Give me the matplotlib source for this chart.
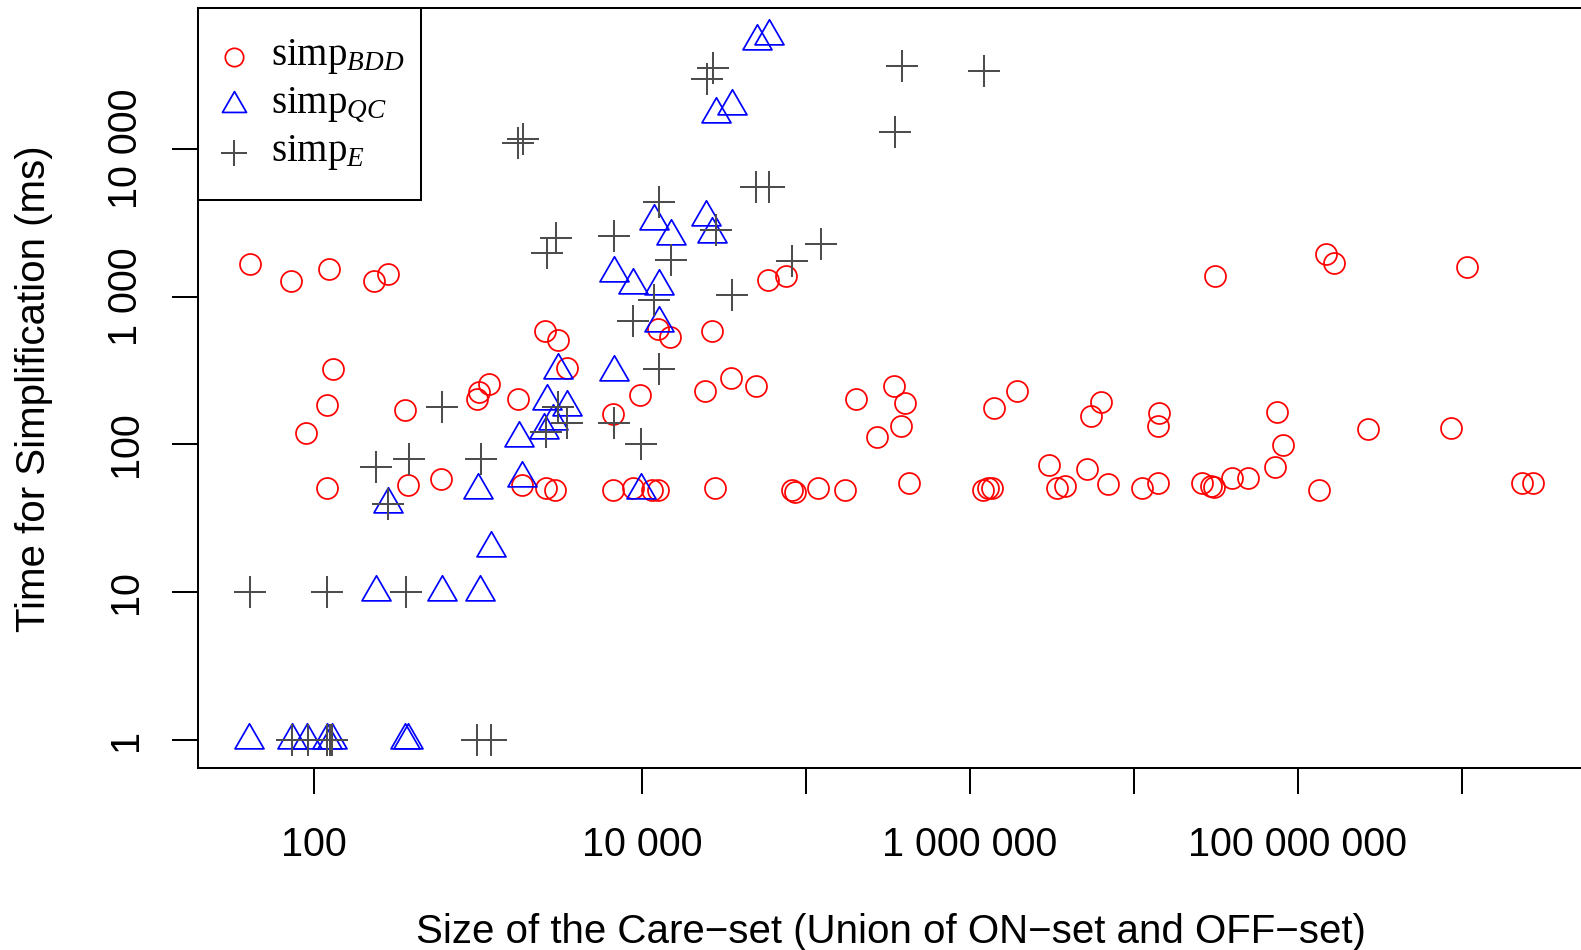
import matplotlib
matplotlib.use("Agg")
import matplotlib.pyplot as plt
from matplotlib.path import Path
from matplotlib.patches import Rectangle
from matplotlib.lines import Line2D
import numpy as np

# ---------------- data ----------------
bdd_x = [40.5, 72.1, 123.5, 232, 283, 129.5, 119, 89, 119, 358,
         375, 590, 979, 1016, 1164, 1757, 1843, 2556, 3082, 3458,
         2610, 2942, 6673, 6673, 8838, 9710, 11446, 12555, 12555, 14800,
         26700, 24030, 28040, 35010, 49330, 58880, 75510, 81800, 85670, 118900,
         173000, 201800, 271200, 344400, 381500, 403500, 426800, 1.207e6, 1.281e6, 1.358e6,
         1.409e6, 1.951e6, 3.051e6, 3.385e6, 3.793e6, 5.212e6, 5.49e6, 6.29e6, 6.98e6, 1.127e7,
         1.401e7, 1.401e7, 1.431e7, 2.603e7, 2.966e7, 3.094e7, 3.124e7, 3.951e7, 4.989e7, 7.26e7,
         7.49e7, 8.1e7, 1.341e8, 1.488e8, 1.67e8, 2.681e8, 8.65e8, 1.076e9, 2.349e9, 2.72e9]
bdd_y = [1654, 1275, 1530, 1275, 1422, 322, 185, 119, 50.5, 171,
         53.1, 58.3, 203, 227, 256, 203, 53.1, 588, 509, 327,
         50.5, 49.1, 160.6, 49.1, 50.5, 216, 49.1, 49.1, 601, 535,
         588, 228, 50.7, 280, 248, 1295, 1378, 49.1, 47.6, 50.9,
         49.1, 203, 112.7, 249.6, 133.2, 191.5, 54.6, 49.1, 50.7, 50.7,
         175.5, 228, 72.5, 50.5, 52.3, 67.8, 155.7, 192.7, 53.7, 50.5,
         55.1, 133.2, 162.4, 55.1, 52.3, 51.3, 1378, 59.0, 59.0, 70.0,
         164.9, 99.1, 49.1, 1933, 1696, 126.5, 129.7, 1594, 55.1, 55.1]

qc_x = [40.1, 72.8, 89.9, 119, 127.7, 360, 375, 238, 604, 1026,
        1197, 283, 1001, 1863, 1779, 2520, 2860, 2618, 3467, 3082,
        6710, 9807, 12730, 6738, 8740, 12730, 11820, 15070, 24540, 26810,
        28240, 35210, 50030, 59720]
qc_y = [1, 1, 1, 1, 1, 1, 1, 10, 10, 10,
        20, 39.5, 49.4, 59.4, 110, 125.2, 144, 198, 179, 319,
        310, 49.5, 666, 1438, 1202, 1172, 3257, 2555, 3472, 2669,
        17150, 19360, 53380, 58050]

e_x = [40.5, 120, 361, 72.8, 91.9, 120, 124.2, 128.8, 987.5, 1192,
       238, 378, 604, 283, 1047, 2610, 3082, 3467, 6738, 9807,
       12730, 8762, 11850, 35210, 15010, 28240, 6738, 2640, 2971, 12730,
       49750, 59720, 82490, 122900, 1757, 1885, 24780, 26960, 347800, 386900,
       1.219e6]
e_y = [10, 10, 10, 1, 1, 1, 1, 1, 1, 1,
       70, 79.6, 180, 39.5, 79.3, 120.4, 180, 138.9, 139.5, 100,
       326, 681, 944, 1025, 1761, 2810, 2559, 1972, 2492, 4379,
       5540, 5540, 1750, 2280, 10900, 11600, 29670, 35380, 12990, 36490,
       33610]

x_ticks = [1e2, 1e4, 1e5, 1e6, 1e7, 1e8, 1e9]
x_ticklabels = ["100", "10 000", "", "1 000 000", "", "100 000 000", ""]
y_ticks = [1, 10, 100, 1000, 10000]
y_ticklabels = ["1", "10", "100", "1 000", "10 000"]

series_labels = [r"$\mathrm{simp}_{BDD}$", r"$\mathrm{simp}_{QC}$", r"$\mathrm{simp}_{E}$"]
xlabel = "Size of the Care\u2212set (Union of ON\u2212set and OFF\u2212set)"
ylabel = "Time for Simplification (ms)"

# ---------------- style ----------------
plt.rcParams['font.family'] = ['Liberation Sans', 'DejaVu Sans']
plt.rcParams['mathtext.fontset'] = 'custom'
plt.rcParams['mathtext.rm'] = 'Liberation Serif'
plt.rcParams['mathtext.it'] = 'Liberation Serif:italic'

RED = '#FF0000'
BLUE = '#0000FF'
GRAY = '#4D4D4D'

W, H = 1581, 950
fig = plt.figure(figsize=(W / 100, H / 100), dpi=100)

def fx(px):
    return px / W

def fy(py):
    return 1 - py / H

left_px, right_px, top_px, bot_px = 198.3, 1600.0, 8.3, 768.3
ax = fig.add_axes([fx(left_px), fy(bot_px), (right_px - left_px) / W, (bot_px - top_px) / H])
ax.set_xscale('log')
ax.set_yscale('log')

x100, xdec = 314.3, 163.9
y1, ydec = 740.0, 147.8
ax.set_xlim(10 ** (2 + (left_px - x100) / xdec), 10 ** (2 + (right_px - x100) / xdec))
ax.set_ylim(10 ** ((y1 - bot_px) / ydec), 10 ** ((y1 - top_px) / ydec))

# equilateral triangle marker (R pch=2)
tri = Path([(0, 1), (-0.866, -0.5), (0.866, -0.5), (0, 1)],
           [Path.MOVETO, Path.LINETO, Path.LINETO, Path.CLOSEPOLY])

ax.plot(bdd_x, bdd_y, linestyle='none', marker='o', markersize=15.1,
        markerfacecolor='none', markeredgecolor=RED, markeredgewidth=1.25, zorder=3)
ax.plot(qc_x, qc_y, linestyle='none', marker=tri, markersize=24.1,
        markerfacecolor='none', markeredgecolor=BLUE, markeredgewidth=1.25, zorder=4)
ax.plot(e_x, e_y, linestyle='none', marker='+', markersize=23,
        markeredgecolor=GRAY, markeredgewidth=1.45, zorder=5)

for sp in ['left', 'bottom', 'top']:
    ax.spines[sp].set_linewidth(1.45)
    ax.spines[sp].set_color('black')
ax.spines['right'].set_visible(False)

ax.xaxis.set_minor_locator(matplotlib.ticker.NullLocator())
ax.yaxis.set_minor_locator(matplotlib.ticker.NullLocator())
ax.set_xticks(x_ticks)
ax.set_xticklabels(x_ticklabels)
ax.set_yticks(y_ticks)
ax.set_yticklabels(y_ticklabels)
ax.tick_params(axis='both', which='major', direction='out', length=18.7, width=1.45,
               labelsize=28.5, colors='black')
ax.tick_params(axis='x', pad=23.2)
ax.tick_params(axis='y', pad=19.7)
for lab in ax.get_yticklabels():
    lab.set_rotation(90)
    lab.set_va('center')
    lab.set_ha('right')

fig.text(fx(890.8), fy(943.3), xlabel, ha='center', va='baseline', fontsize=29)
fig.text(fx(53.0), fy(388.3), ylabel, ha='right', va='center', rotation=90, fontsize=29)

# ---------------- legend ----------------
leg_l, leg_r, leg_t, leg_b = 198.3, 420.7, 8.3, 200.0
fig.patches.append(Rectangle((fx(leg_l), fy(leg_b)), (leg_r - leg_l) / W, (leg_b - leg_t) / H,
                             transform=fig.transFigure, facecolor='white',
                             edgecolor='black', linewidth=1.45, zorder=10))
leg_y = [57.0, 105.0, 153.0]
leg_styles = [dict(marker='o', markersize=13.2, markerfacecolor='none', markeredgecolor=RED, markeredgewidth=1.25),
              dict(marker=tri, markersize=20.0, markerfacecolor='none', markeredgecolor=BLUE, markeredgewidth=1.25),
              dict(marker='+', markersize=18.7, markeredgecolor=GRAY, markeredgewidth=1.45)]
for yy, st, lab in zip(leg_y, leg_styles, series_labels):
    fig.lines.append(Line2D([fx(234.3)], [fy(yy)], transform=fig.transFigure,
                            linestyle='none', zorder=11, **st))
    fig.text(fx(271), fy(yy + 8.3), lab, ha='left', va='baseline', fontsize=28, zorder=12)

fig.savefig('out.png', dpi=100)
